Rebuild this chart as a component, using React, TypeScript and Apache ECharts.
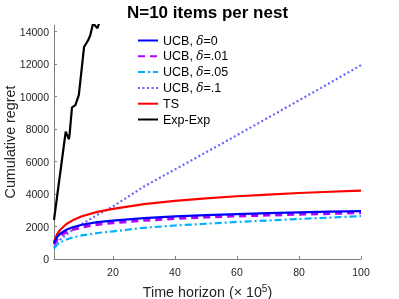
import React, { useEffect, useRef } from "react";
import * as echarts from "echarts";

const xs = [1, 2, 3, 5, 7, 10, 15, 20, 30, 40, 50, 60, 70, 80, 90, 100];
const ucb0 = [980, 1350, 1560, 1800, 1950, 2110, 2270, 2360, 2520, 2620, 2700, 2760, 2820, 2870, 2910, 2950];
const ucb01 = [900, 1230, 1430, 1660, 1810, 1960, 2130, 2230, 2380, 2490, 2580, 2650, 2700, 2760, 2800, 2850];
const ucb05 = [650, 880, 1020, 1200, 1320, 1450, 1600, 1700, 1920, 2060, 2170, 2280, 2370, 2460, 2550, 2640];
const ucb1 = [750, 1000, 1200, 1500, 1780, 2150, 2720, 3230, 4460, 5510, 6560, 7620, 8690, 9760, 10840, 11930];
const ts = [1050, 1530, 1800, 2150, 2380, 2630, 2900, 3080, 3380, 3580, 3730, 3860, 3960, 4060, 4140, 4210];
const expX = [1, 4.77, 5.84, 6.06, 6.8, 7.9, 9.0, 10.7, 12.0, 12.7, 13.6, 15.0, 15.9];
const expY = [2410, 7830, 7370, 7730, 9330, 9470, 10090, 13050, 13460, 13770, 14500, 14200, 14700];
const xTicks = [20, 40, 60, 80, 100];
const yTicks = [0, 2000, 4000, 6000, 8000, 10000, 12000, 14000];

const pairs = (a: number[], b: number[]) => a.map((v, i) => [v, b[i]]);

export default function App() {
  const ref = useRef<HTMLDivElement>(null);
  useEffect(() => {
    if (!ref.current) return;
    const chart = echarts.init(ref.current, undefined, { renderer: "svg" });
    const font = "Liberation Sans";
    const rich = {
      i: { fontStyle: "italic", fontFamily: "DejaVu Serif", fontSize: 12, color: "#000" },
    };
    const mk = (name: string, data: number[][], color: string, type: any, width: number) => ({
      name,
      type: "line",
      data,
      symbol: "none",
      clip: true,
      lineStyle: { color, type, width },
      itemStyle: { color },
    });
    chart.setOption({
      animation: false,
      textStyle: { fontFamily: font },
      title: {
        text: "N=10 items per nest",
        left: 202.5,
        textAlign: "center",
        top: -1,
        textStyle: { fontSize: 17, fontWeight: "bold", color: "#000", fontFamily: font },
      },
      grid: { left: 54, right: 38, top: 25, bottom: 40, containLabel: false, outerBoundsMode: "none" },
      legend: {
        orient: "vertical",
        left: 137,
        top: 34,
        padding: 0,
        itemWidth: 20,
        itemHeight: 14,
        itemGap: 2.8,
        itemStyle: { color: "transparent", borderWidth: 0, opacity: 0 },
        textStyle: { fontSize: 12.5, color: "#000", fontFamily: font, rich },
        formatter: (n: string) => {
          const m = n.match(/^UCB, d(.*)$/);
          return m ? `UCB, {i|δ}${m[1]}` : n;
        },
        data: ["UCB, d=0", "UCB, d=.01", "UCB, d=.05", "UCB, d=.1", "TS", "Exp-Exp"],
      },
      xAxis: {
        type: "value",
        min: 1,
        max: 100,
        name: "Time horizon (× 10{sup|5})",
        nameLocation: "middle",
        nameGap: 24,
        nameMoveOverlap: false,
        nameTextStyle: {
          fontSize: 14.3,
          color: "#262626",
          fontFamily: font,
          rich: { sup: { fontSize: 10, verticalAlign: "top", padding: [0, 0, 8, 0], color: "#262626" } },
        },
        axisLine: { lineStyle: { color: "#808080", width: 1 } },
        axisTick: { inside: true, length: 3, customValues: xTicks, lineStyle: { color: "#808080" } },
        axisLabel: { customValues: xTicks, fontSize: 10.5, color: "#262626", margin: 7, fontFamily: font },
        splitLine: { show: false },
      },
      yAxis: {
        type: "value",
        min: 0,
        max: 14400,
        name: "Cumulative regret",
        nameLocation: "middle",
        nameGap: 37,
        nameMoveOverlap: false,
        nameTextStyle: { fontSize: 14.3, color: "#262626", fontFamily: font },
        axisLine: { show: true, lineStyle: { color: "#808080", width: 1 } },
        axisTick: { show: true, inside: true, length: 3, customValues: yTicks, lineStyle: { color: "#808080" } },
        axisLabel: {
          customValues: yTicks,
          fontSize: 10.5,
          color: "#262626",
          margin: 5,
          fontFamily: font,
          formatter: (v: number) => String(v),
        },
        splitLine: { show: false },
      },
      series: [
        mk("Exp-Exp", pairs(expX, expY), "#000000", "solid", 2.2),
        mk("UCB, d=.1", pairs(xs, ucb1), "#6666ff", [2, 2.5], 2.2),
        mk("TS", pairs(xs, ts), "#ff0000", "solid", 2.2),
        mk("UCB, d=.05", pairs(xs, ucb05), "#00b0ff", [7, 3, 2, 3], 2.2),
        mk("UCB, d=.01", pairs(xs, ucb01), "#b000ff", [7, 5], 3),
        mk("UCB, d=0", pairs(xs, ucb0), "#0000ff", "solid", 2.2),
      ],
    });
    return () => chart.dispose();
  }, []);
  return <div ref={ref} style={{ position: "fixed", left: 0, top: 0, width: 399, height: 299 }} />;
}
